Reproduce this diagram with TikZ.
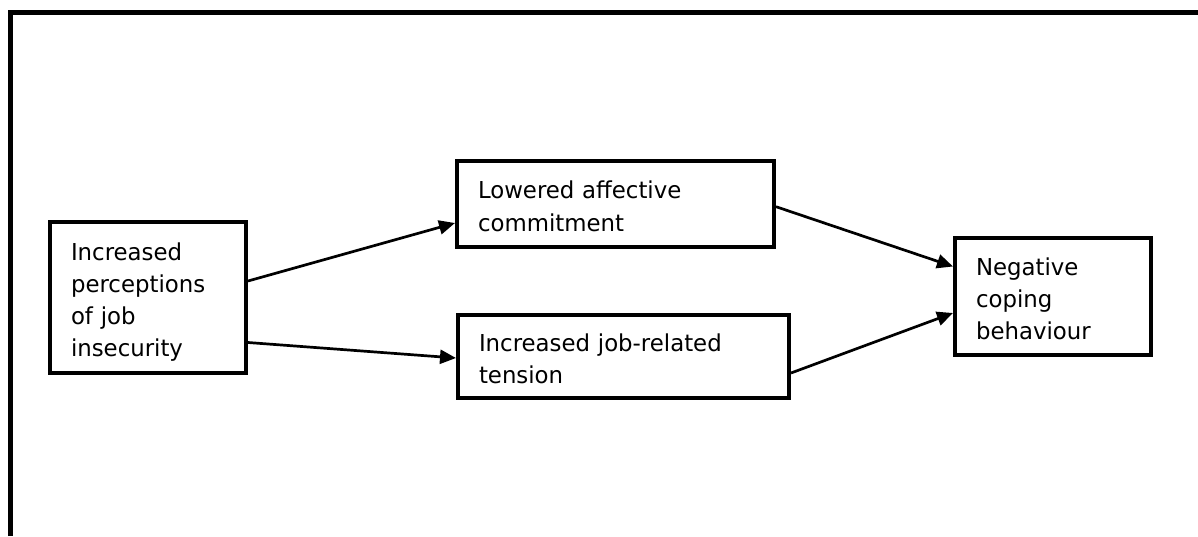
\documentclass[tikz,border=0pt]{standalone}
\usepackage{fontspec}
\setmainfont[FakeStretch=0.98]{DejaVu Sans}
\usetikzlibrary{arrows.meta}
\newcommand{\firstln}{\rule{0pt}{22pt}}
\begin{document}
\begin{tikzpicture}[x=1pt,y=-1pt,
  box/.style={draw, line width=4pt, rectangle, inner xsep=21pt, inner ysep=0pt,
    align=left, anchor=center,
    font=\fontsize{23.3pt}{32.3pt}\selectfont},
  conn/.style={line width=2.7pt, -{Triangle[length=16pt,width=14pt]}}
]
\useasboundingbox (0,0) rectangle (1198,536);
\draw[line width=5pt, line join=miter] (10.5,536) -- (10.5,12.5) -- (1198,12.5);

\node[box, minimum width=196pt, minimum height=151pt, text width=154pt] (n1) at (148,297.5)
  {\firstln Increased\\perceptions\\of job\\\smash{insecurity}};
\node[box, minimum width=317pt, minimum height=86pt, text width=275pt] (n2) at (615.5,204)
  {\firstln Lowered affective\\\smash{commitment}};
\node[box, minimum width=331pt, minimum height=83pt, text width=289pt] (n3) at (623.5,356.5)
  {\firstln Increased job-related\\\smash{tension}};
\node[box, minimum width=196pt, minimum height=117pt, text width=154pt] (n4) at (1053,296.5)
  {\firstln Negative\\coping\\\smash{behaviour}};

\draw[conn] ([yshift=16.5pt]n1.east) -- ([yshift=-19pt]n2.west);
\draw[conn] ([yshift=-45pt]n1.east) -- ([yshift=-1.5pt]n3.west);
\draw[conn] ([yshift=-2.7pt]n2.east) -- ([yshift=30pt]n4.west);
\draw[conn] ([yshift=-16.5pt]n3.east) -- ([yshift=-16.5pt]n4.west);
\end{tikzpicture}
\end{document}
